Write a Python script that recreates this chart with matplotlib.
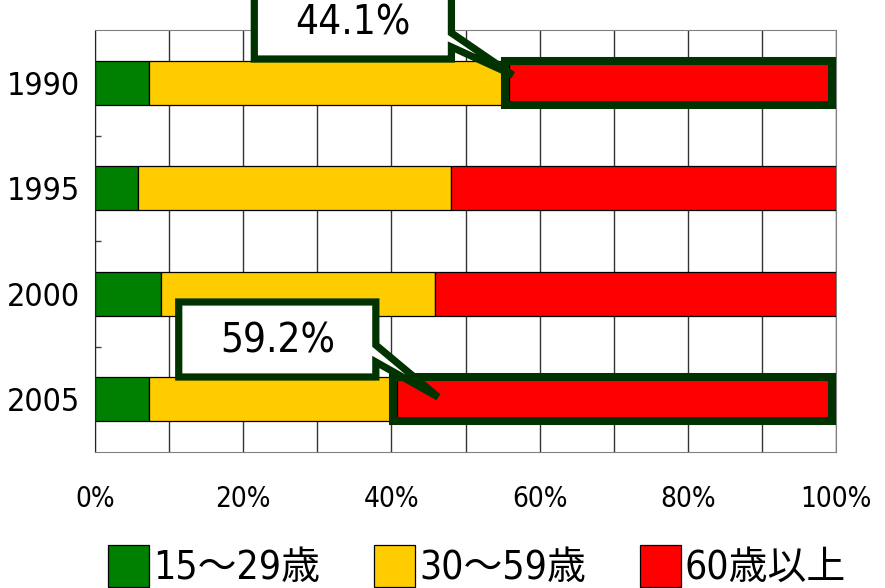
import matplotlib.pyplot as plt
from matplotlib.patches import Polygon, Rectangle
import numpy as np

plt.rcParams['font.family'] = ['DejaVu Sans', 'Noto Sans CJK JP']
plt.rcParams['font.stretch'] = 'condensed'

# share of workers by age group (%)
years = ['1990', '1995', '2000', '2005']
age_groups = ['15～29歳', '30～59歳', '60歳以上']
share_15_29 = [7.3, 5.8, 8.9, 7.3]
share_30_59 = [48.6, 42.2, 37.0, 33.5]
share_60_over = [44.1, 52.0, 54.1, 59.2]
x_ticks = [0, 20, 40, 60, 80, 100]

colors = ['#008000', '#FFCC00', '#FF0000']
dark = '#003300'
bar_h = 0.42


def draw_callout(ax, box, wedge, tip, text):
    # box = (left, right, top, bottom), wedge = (y where pointer leaves, y where it returns)
    l, r, t, b = box
    pts = [(l, t), (r, t), (r, wedge[0]), tip, (r, wedge[1]), (r, b), (l, b)]
    ax.add_patch(Polygon(pts, closed=True, facecolor='white', edgecolor=dark,
                         lw=5.2, joinstyle='miter', zorder=4, clip_on=False))
    ax.text((l + r) / 2, (t + b) / 2 + 0.02, text, ha='center', va='center',
            fontsize=29, zorder=5, clip_on=False)


fig = plt.figure(figsize=(8.85, 5.88), dpi=100)
ax = fig.add_axes([95 / 885, 1 - 452 / 588, 741 / 885, 422 / 588])

y = np.arange(len(years))
left = np.zeros(len(years))
for vals, col, lab in zip([share_15_29, share_30_59, share_60_over], colors, age_groups):
    ax.barh(y, vals, left=left, height=bar_h, color=col, edgecolor='black',
            linewidth=0.9, label=lab, zorder=2)
    left += np.array(vals)

# thick frames around the 60+ segment for 1990 and 2005
for i in [0, 3]:
    red = share_60_over[i]
    ax.add_patch(Rectangle((100 - red - 0.6, y[i] - 0.21), red + 0.1, 0.42,
                           fill=False, edgecolor=dark, lw=5.8, zorder=3,
                           joinstyle='miter'))

draw_callout(ax, (21.5, 48.1, -0.93, -0.225), (-0.472, -0.339), (56.4, -0.073),
             f'{share_60_over[0]:.1f}%')
draw_callout(ax, (11.3, 37.9, 2.078, 2.789), (2.486, 2.647), (46.3, 2.979),
             f'{share_60_over[3]:.1f}%')

ax.set_xlim(0, 100)
ax.set_ylim(len(years) - 0.5, -0.5)
ax.set_xticks(x_ticks)
ax.set_xticklabels([f'{v}%' for v in x_ticks], fontsize=20)
ax.set_xticks(np.arange(0, 101, 10), minor=True)
ax.tick_params(axis='x', which='both', length=0, pad=24)
ax.set_yticks(y)
ax.set_yticklabels(years, fontsize=23)
ax.set_yticks(np.arange(0.5, len(years) - 0.5, 1), minor=True)
ax.tick_params(axis='y', which='major', length=0, pad=11)
ax.tick_params(axis='y', which='minor', direction='in', length=4, width=1, color='#404040')
ax.grid(axis='x', which='both', color='#333333', lw=1, zorder=0)
ax.set_axisbelow(True)
for s in ['top', 'right', 'bottom']:
    ax.spines[s].set_color('#808080')
ax.spines['left'].set_color('#222222')

fig.legend(loc='upper left', bbox_to_anchor=(108 / 885, 1 - 545 / 588), ncol=3,
           frameon=False, fontsize=28, handlelength=1.05, handleheight=1.3,
           handletextpad=0.1, columnspacing=1.4, borderpad=0, borderaxespad=0)

fig.savefig('out.png', dpi=100)
